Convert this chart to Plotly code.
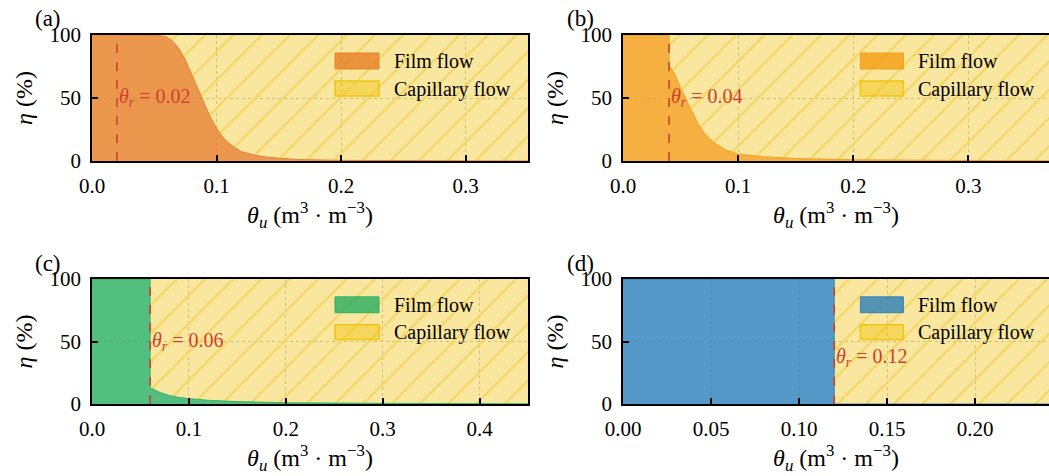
import plotly.graph_objects as go

# ---------------- data ----------------
panel_labels = ["(a)", "(b)", "(c)", "(d)"]
theta_r = [0.02, 0.04, 0.06, 0.12]
theta_max = [0.35, 0.37, 0.45, 0.242]
label_y = [50, 50, 50, 37]

a_theta = [0.0, 0.05, 0.055, 0.06, 0.065, 0.07, 0.075, 0.08, 0.085, 0.09, 0.095, 0.10,
           0.105, 0.11, 0.115, 0.12, 0.13, 0.14, 0.15, 0.165, 0.20, 0.25, 0.35]
a_film = [100, 100, 99.5, 98.5, 95, 89, 80, 69, 57, 46, 35, 26,
          19, 14, 10.5, 7.5, 4.8, 3.2, 2.2, 1.2, 0.5, 0.2, 0.05]

b_theta = [0.0, 0.04, 0.04, 0.045, 0.05, 0.055, 0.06, 0.065, 0.07, 0.075, 0.08, 0.09,
           0.10, 0.12, 0.15, 0.20, 0.30, 0.37]
b_film = [100, 100, 76, 69, 58, 49, 40, 30, 23, 18, 14, 8.5,
          5.5, 3.5, 2, 1, 0.4, 0.2]

c_theta = [0.0, 0.06, 0.06, 0.065, 0.07, 0.08, 0.09, 0.10, 0.12, 0.15, 0.20, 0.30, 0.45]
c_film = [100, 100, 13, 11, 9.3, 6.8, 5.2, 4.3, 3, 1.9, 1, 0.5, 0.2]

d_theta = [0.0, 0.12, 0.12, 0.242]
d_film = [100, 100, 0, 0]

thetas = [a_theta, b_theta, c_theta, d_theta]
films = [a_film, b_film, c_film, d_film]
capillaries = [[100 - f for f in fl] for fl in films]

x_dticks = [0.1, 0.1, 0.1, 0.05]
x_formats = [".1f", ".1f", ".1f", ".2f"]

# ---------------- style ----------------
FONT = "Liberation Serif"
film_fill = ["rgba(230,126,34,0.8)", "rgba(243,156,18,0.8)",
             "rgba(39,174,96,0.8)", "rgba(41,128,185,0.8)"]
film_line = ["rgba(230,126,34,0.9)", "rgba(243,156,18,0.9)",
             "rgba(39,174,96,0.9)", "rgba(41,128,185,0.9)"]
cap_bg = "rgba(241,196,15,0.4)"
cap_fg = "#F4D45F"
red = "#D0402F"

W, H = 1049, 476
# axes boxes in pixels (left, right, top, bottom)
boxes = [(92, 528, 35, 161), (623, 1049, 35, 161),
         (92, 528, 279, 404), (623, 1049, 279, 404)]

fig = go.Figure()
layout = {}
annotations = []
shapes = []

for i in range(4):
    n = "" if i == 0 else str(i + 1)
    xa, ya = "x" + n, "y" + n
    l, r, t, b = boxes[i]
    xdom = [l / W, r / W]
    ydom = [1 - b / H, 1 - t / H]

    th = thetas[i]
    fl = films[i]
    top = [f + c for f, c in zip(fl, capillaries[i])]

    fig.add_trace(go.Scatter(x=th, y=fl, mode="lines", fill="tozeroy",
                             fillcolor=film_fill[i],
                             line=dict(color=film_line[i], width=1),
                             name="Film flow", showlegend=False,
                             xaxis=xa, yaxis=ya, hoverinfo="skip"))
    fig.add_trace(go.Scatter(x=th, y=top, mode="lines", fill="tonexty",
                             fillpattern=dict(shape="/", fgcolor=cap_fg, bgcolor=cap_bg,
                                              size=20, solidity=0.1, fillmode="replace"),
                             line=dict(color="rgba(0,0,0,0)", width=0),
                             name="Capillary flow", showlegend=False,
                             xaxis=xa, yaxis=ya, hoverinfo="skip"))
    fig.add_trace(go.Scatter(x=[theta_r[i], theta_r[i]], y=[0, 100], mode="lines",
                             line=dict(color=red, width=1.6, dash="dash"),
                             showlegend=False, xaxis=xa, yaxis=ya, hoverinfo="skip"))

    common = dict(showline=True, linecolor="black", linewidth=1.8,
                  ticks="inside", ticklen=6, tickwidth=1.5, tickcolor="black",
                  showgrid=True, gridcolor="#BDBDBD", gridwidth=1.2, griddash="dot",
                  zeroline=False, automargin=False,
                  tickfont=dict(family=FONT, size=21, color="black"),
                  ticklabelstandoff=5)
    layout["xaxis" + n] = dict(
        domain=xdom, anchor=ya, range=[0, theta_max[i]], dtick=x_dticks[i], tick0=0,
        tickformat=x_formats[i], mirror=True,
        title=dict(text="<i>θ<sub>u</sub></i> (m<sup>3</sup> · m<sup>−3</sup>)",
                   font=dict(family=FONT, size=24, color="black"), standoff=8),
        **common)
    layout["yaxis" + n] = dict(
        domain=ydom, anchor=xa, range=[0, 100], tickvals=[0, 50, 100],
        mirror=(i in (0, 2)),
        title=dict(text="<i>η</i> (%)", font=dict(family=FONT, size=24, color="black"),
                   standoff=10),
        **common)

    # theta_r label
    annotations.append(dict(x=theta_r[i], y=label_y[i], xref=xa, yref=ya,
                            text=f"<i>θ<sub>r</sub></i> = {theta_r[i]:.2f}",
                            showarrow=False, xanchor="left", yanchor="middle", xshift=0,
                            font=dict(family=FONT, size=20, color=red)))
    # panel label
    annotations.append(dict(x=-44 / 436, y=1 + 16 / 126, xref=xa + " domain", yref=ya + " domain",
                            text=panel_labels[i], showarrow=False,
                            xanchor="center", yanchor="middle",
                            font=dict(family=FONT, size=23, color="black")))
    # legend (drawn manually inside each axes)
    shapes.append(dict(type="rect", xref=xa + " domain", yref=ya + " domain",
                       x0=243 / 436, x1=287 / 436, y0=1 - 34 / 126, y1=1 - 18 / 126,
                       fillcolor=film_fill[i], line=dict(color=film_line[i], width=1)))
    shapes.append(dict(type="rect", xref=xa + " domain", yref=ya + " domain",
                       x0=243 / 436, x1=287 / 436, y0=1 - 61 / 126, y1=1 - 46 / 126,
                       fillcolor="rgba(241,196,15,0.45)", line=dict(color="#F1C40F", width=1.5)))
    annotations.append(dict(x=300 / 436, y=1 - 26 / 126, xref=xa + " domain", yref=ya + " domain",
                            text="Film flow", showarrow=False, xanchor="left", yanchor="middle",
                            font=dict(family=FONT, size=20, color="black")))
    annotations.append(dict(x=300 / 436, y=1 - 54 / 126, xref=xa + " domain", yref=ya + " domain",
                            text="Capillary flow", showarrow=False, xanchor="left", yanchor="middle",
                            font=dict(family=FONT, size=20, color="black")))

fig.update_layout(width=W, height=H, margin=dict(l=0, r=0, t=0, b=0, autoexpand=False),
                  paper_bgcolor="white", plot_bgcolor="white",
                  annotations=annotations, shapes=shapes, showlegend=False,
                  font=dict(family=FONT, size=20, color="black"), **layout)

fig.write_html("out.html", config={"displayModeBar": False},
               post_script="document.body.style.margin='0';document.body.style.overflow='hidden';")
